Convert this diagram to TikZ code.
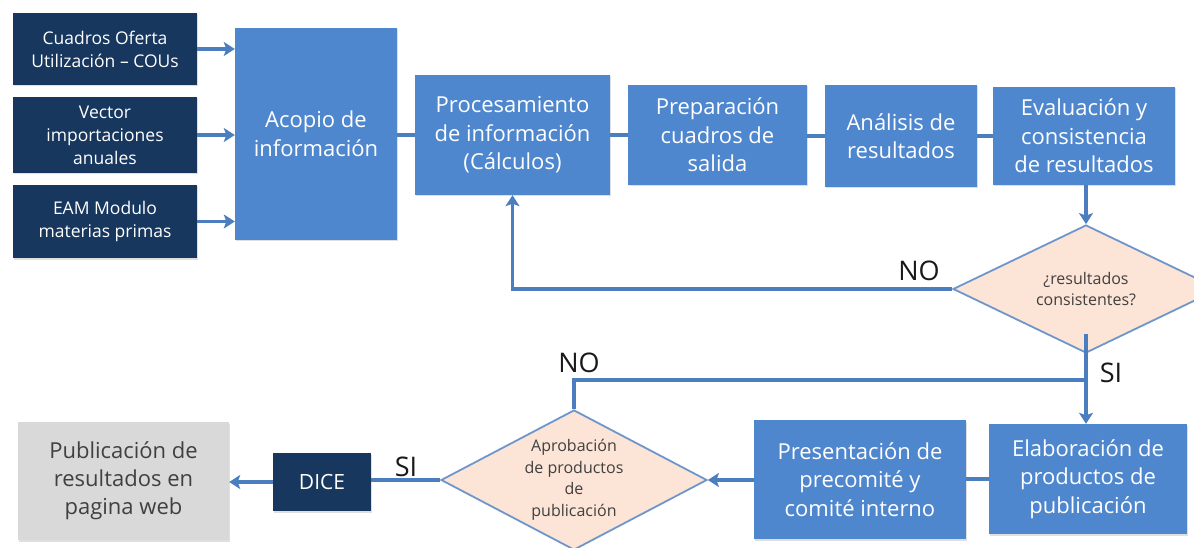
\documentclass[tikz,border=0pt]{standalone}
\usepackage{fontspec}
\setmainfont{Open Sans}
\usetikzlibrary{shapes.geometric,arrows.meta,shadows}
\definecolor{boxblue}{HTML}{4F87CF}
\definecolor{navy}{HTML}{17375E}
\definecolor{linec}{HTML}{4A7EBF}
\definecolor{peach}{HTML}{FCE4D6}
\definecolor{dborder}{HTML}{6E96CB}
\definecolor{greybox}{HTML}{D9D9D9}
\definecolor{dtxt}{HTML}{404040}
\begin{document}
\begin{tikzpicture}[x=1pt,y=-1pt,
  base/.style={inner sep=0pt, align=center, drop shadow={shadow xshift=1pt, shadow yshift=-1.5pt, opacity=0.25}},
  bluebox/.style={base, fill=boxblue, text=white, font=\fontsize{22}{28.5}\selectfont},
  navybox/.style={base, fill=navy, text=white, font=\fontsize{17.5}{23}\selectfont},
  greyb/.style={base, fill=greybox, text=dtxt, font=\fontsize{22}{28}\selectfont},
  diam/.style={shape=diamond, inner sep=0pt, fill=peach, draw=dborder, line width=1.8pt},
  dtext/.style={align=center, inner sep=0pt, text=dtxt, font=\fontsize{16}{21.5}\selectfont},
  lbl/.style={inner sep=0pt, text=black!90, font=\fontsize{27}{30}\selectfont},
  conn/.style={draw=linec, line width=3.3pt},
  arr/.style={conn, -{Stealth[length=11pt,width=14pt,inset=2.5pt]}}
]
\useasboundingbox (0,0) rectangle (1194,548);
\fill[white] (0,0) rectangle (1194,548);

% left input boxes
\node[navybox, minimum width=184, minimum height=72] (c1) at (105,49) {Cuadros Oferta\\Utilización -- COUs};
\node[navybox, minimum width=184, minimum height=76] (c2) at (105,135) {Vector\\importaciones\\anuales};
\node[navybox, minimum width=184, minimum height=73] (c3) at (105,221.5) {EAM Modulo\\materias primas};

% top row
\node[bluebox, minimum width=162, minimum height=212] (acopio) at (316,134) {Acopio de\\información};
\node[bluebox, minimum width=195, minimum height=120] (proc) at (512.5,135) {Procesamiento\\de información\\(Cálculos)};
\node[bluebox, minimum width=179, minimum height=100] (prep) at (717.5,135) {Preparación\\cuadros de\\salida};
\node[bluebox, minimum width=152, minimum height=102] (anal) at (901,136) {Análisis de\\resultados};
\node[bluebox, minimum width=182, minimum height=98] (eval) at (1084,136) {Evaluación y\\consistencia\\de resultados};

% decision 1
\node[diam, minimum width=266, minimum height=128] (d1) at (1086,289) {};
\node[dtext] (d1t) at (d1.center) {¿resultados\\consistentes?};

% bottom row
\node[bluebox, minimum width=198, minimum height=110] (elab) at (1088,479) {Elaboración de\\productos de\\publicación};
\node[bluebox, minimum width=212, minimum height=119] (pres) at (860,479.5) {Presentación de\\precomité y\\comité interno};
\node[diam, minimum width=266, minimum height=140] (d2) at (574,480) {};
\node[dtext] (d2t) at (d2.center) {Aprobación\\de productos\\de\\publicación};
\node[navybox, font=\fontsize{21}{24}\selectfont, minimum width=98, minimum height=58] (dice) at (322,482) {DICE};
\node[greyb, minimum width=211, minimum height=118] (pub) at (123.5,481) {Publicación de\\resultados en\\pagina web};

% connectors
\draw[arr] (c1.east) -- (c1.east -| acopio.west);
\draw[arr] (c2.east) -- (c2.east -| acopio.west);
\draw[arr] (c3.east) -- (c3.east -| acopio.west);
\draw[conn] (acopio.east |- proc.west) -- (proc.west);
\draw[conn] (proc.east |- prep.west) -- (prep.west);
\draw[conn] (prep.east |- anal.west) -- (anal.west);
\draw[conn] (anal.east |- eval.west) -- (eval.west);
\draw[arr] (eval.south -| d1.north) -- (d1.north);
\draw[arr] (d1.west) -| (proc.south);
\draw[arr] ([yshift=20pt]d1.south) -- (d1.south |- elab.north);
\coordinate (nojoin) at (1086,380);
\draw[conn] (d2.north) |- (nojoin);
\draw[conn] (elab.west) -- (elab.west -| pres.east);
\draw[arr] (pres.west |- d2.east) -- (d2.east);
\draw[conn] (d2.west) -- (d2.west -| dice.east);
\draw[arr] (dice.west) -- (dice.west -| pub.east);

% labels
\node[lbl] (no1) at (919,271) {NO};
\node[lbl] (no2) at (579,363) {NO};
\node[lbl] (si1) at (1111,373) {SI};
\node[lbl] (si2) at (406,467) {SI};
\end{tikzpicture}
\end{document}
